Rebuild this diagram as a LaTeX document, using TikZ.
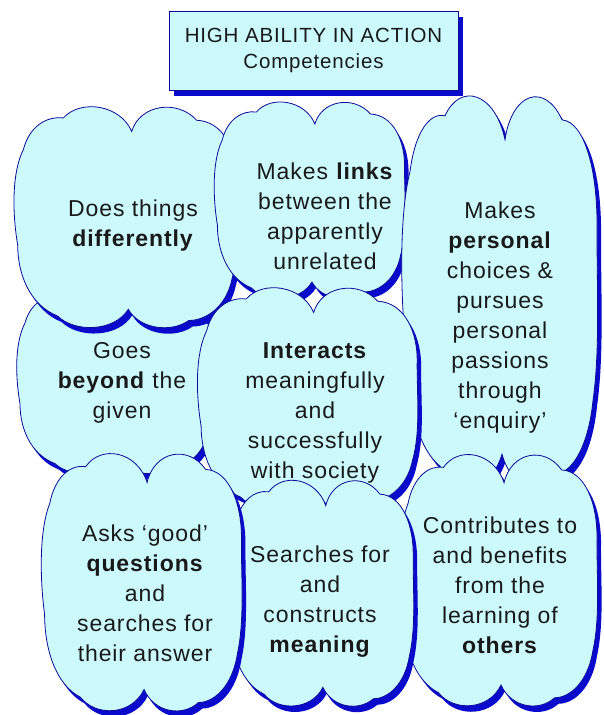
\documentclass[tikz,border=0pt]{standalone}
\usepackage{fontspec}
\setmainfont{Liberation Sans}[LetterSpace=4.0]
\usetikzlibrary{positioning, shadows}

\definecolor{cloudfill}{RGB}{204,250,252}
\definecolor{cloudline}{RGB}{10,10,150}
\definecolor{shadeblue}{RGB}{10,10,205}
\definecolor{inkgray}{RGB}{25,25,25}

% one cloud, 2 units wide and 2 units high, y pointing down
\tikzset{
  blob/.pic={
    \path[pic actions] (0.05,-0.76)
      .. controls (0.12,-1.0) and (0.45,-1.05) .. (0.62,-0.86)
      .. controls (0.85,-0.85) and (0.98,-0.6) .. (0.97,-0.3)
      .. controls (0.97,0.0) and (1.0,0.3) .. (0.93,0.55)
      .. controls (0.88,0.8) and (0.7,0.92) .. (0.55,0.92)
      .. controls (0.4,1.03) and (0.12,1.0) .. (0.02,0.82)
      .. controls (-0.1,1.02) and (-0.45,1.03) .. (-0.6,0.88)
      .. controls (-0.85,0.78) and (-0.95,0.5) .. (-0.95,0.25)
      .. controls (-1.0,-0.05) and (-1.0,-0.4) .. (-0.9,-0.6)
      .. controls (-0.85,-0.8) and (-0.7,-0.9) .. (-0.55,-0.88)
      .. controls (-0.4,-1.05) and (-0.05,-1.0) .. (0.05,-0.76) -- cycle;
  }
}

\begin{document}
\begin{tikzpicture}[
  x=1pt, y=-1pt,
  shade/.style={fill=shadeblue},
  face/.style={fill=cloudfill, draw=cloudline, line width=0.8pt},
  words/.style={align=center, text=inkgray, font=\fontsize{23}{30}\selectfont},
  titlebox/.style={rectangle, draw=cloudline, fill=cloudfill, line width=0.8pt,
    minimum width=289pt, minimum height=79pt, align=center, text=inkgray,
    font=\fontsize{20.5}{26}\selectfont,
    drop shadow={shadow xshift=5pt, shadow yshift=-6pt, fill=shadeblue, opacity=1}}
]
\useasboundingbox (0,0) rectangle (604,715);

\node[titlebox] (title) at (313.5,50.5) {HIGH ABILITY IN ACTION\\Competencies};

% centre x/y, width, height of each cloud, back to front
\foreach \cx/\cy/\w/\h in {115/380/200/190, 126/217/228/225, 310/200/195/200,
    500/291/200/398, 308/398/225/225, 499/580/202/256, 321/593/190/230,
    142/582/205/262}
{
  \pic[shade, xscale=\w/2, yscale=\h/2] at (\cx+4,\cy+6) {blob};
  \pic[face, xscale=\w/2, yscale=\h/2] at (\cx,\cy) {blob};
}

\node[words] (t1) at (133,226) {Does things\\\textbf{differently}};
\node[words] (t2) at (325,216) {Makes \textbf{links}\\between the\\apparently\\unrelated};
\node[words] (t3) at (500,318) {Makes\\\textbf{personal}\\choices \&\\pursues\\personal\\passions\\through\\`enquiry'};
\node[words] (t4) at (122,383) {Goes\\\textbf{beyond} the\\given};
\node[words] (t5) at (315,413) {\textbf{Interacts}\\meaningfully\\and\\successfully\\with society};
\node[words] (t6) at (145,593) {Asks `good'\\\textbf{questions}\\and\\searches for\\their answer};
\node[words] (t7) at (320,602) {Searches for\\and\\constructs\\\textbf{meaning}};
\node[words] (t8) at (500,585) {Contributes to\\and benefits\\from the\\learning of\\\textbf{others}};

\end{tikzpicture}
\end{document}
